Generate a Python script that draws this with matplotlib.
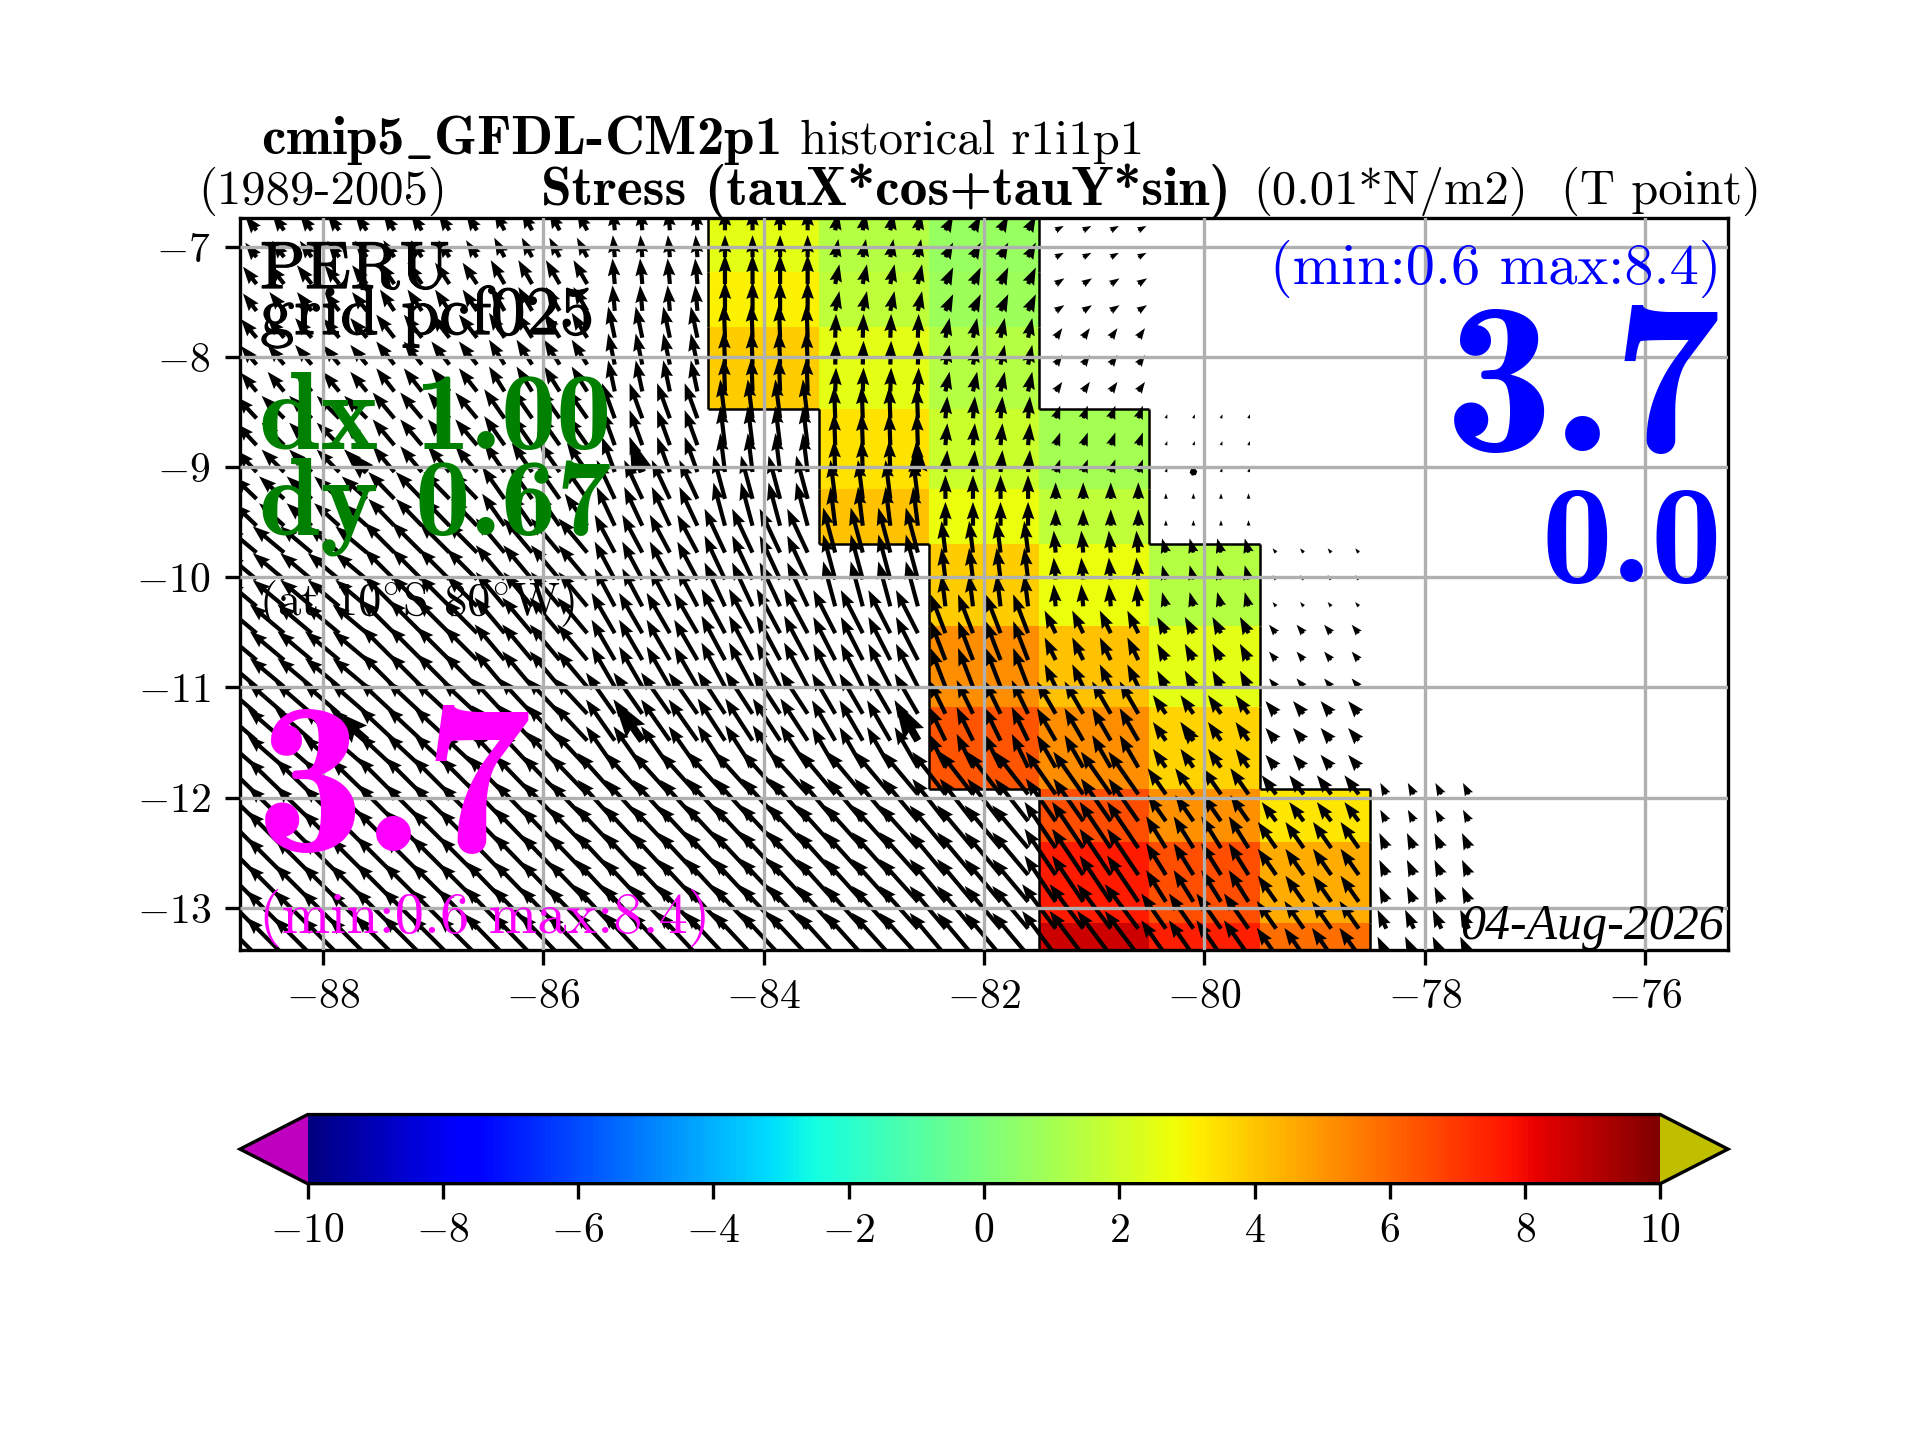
import numpy as np
import matplotlib
matplotlib.use('Agg')
import matplotlib.pyplot as plt
import matplotlib.patheffects as pe
from matplotlib.collections import LineCollection

plt.rcParams['font.family'] = ['cmr10', 'DejaVu Sans']
plt.rcParams['mathtext.fontset'] = 'cm'
plt.rcParams['axes.formatter.use_mathtext'] = True
plt.rcParams['axes.unicode_minus'] = True

n = np.nan

# coarse model cells (1 deg wide), rows run north to south
lon_edges = [-89.5, -88.5, -87.5, -86.5, -85.5, -84.5, -83.5, -82.5, -81.5, -80.5, -79.5, -78.5, -77.5]
lat_edges = [-6.6, -7.23, -7.73, -8.47, -9.20, -9.70, -10.44, -11.18, -11.92, -12.40, -13.14, -13.5]

# shaded field, 0.01*N/m2
stress = [
    [n, n, n, n, n, 2.5, 1.4, 0.7, n, n, n, n],
    [n, n, n, n, n, 3.1, 1.6, 0.8, n, n, n, n],
    [n, n, n, n, n, 3.9, 2.5, 1.4, n, n, n, n],
    [n, n, n, n, n, n, 3.4, 1.9, 1.0, n, n, n],
    [n, n, n, n, n, n, 4.1, 2.7, 1.6, n, n, n],
    [n, n, n, n, n, n, n, 3.9, 2.7, 1.4, n, n],
    [n, n, n, n, n, n, n, 5.2, 4.1, 2.5, n, n],
    [n, n, n, n, n, n, n, 6.4, 5.2, 3.7, n, n],
    [n, n, n, n, n, n, n, n, 6.5, 5.1, 3.3, n],
    [n, n, n, n, n, n, n, n, 7.6, 6.5, 4.6, n],
    [n, n, n, n, n, n, n, n, 8.6, 7.5, 5.8, n],
]

# arrow direction (deg from east) and length per coarse cell
arrow_dir = [
    [128, 126, 123, 118, 95, 90, 80, 62, 28, n, n, n],
    [128, 128, 124, 120, 95, 90, 78, 65, 33, n, n, n],
    [130, 130, 128, 122, 102, 92, 88, 78, 55, n, n, n],
    [133, 135, 130, 125, 110, 97, 92, 85, 70, 70, n, n],
    [136, 138, 134, 125, 115, 105, 97, 90, 90, 90, n, n],
    [140, 140, 135, 130, 118, 115, 105, 97, 95, 105, 130, n],
    [140, 140, 135, 130, 120, 118, 117, 111, 116, 118, 130, n],
    [139, 139, 137, 133, 125, 123, 120, 116, 120, 125, 130, n],
    [136, 136, 135, 134, 132, 132, 130, 128, 125, 125, 127, 118],
    [135, 135, 135, 134, 133, 133, 132, 130, 124, 122, 125, 115],
    [135, 135, 135, 134, 133, 133, 132, 130, 127, 125, 125, 115],
]
arrow_mag = [
    [3.0, 3.3, 3.3, 3.6, 3.6, 3.6, 3.0, 2.7, 1.5, n, n, n],
    [3.6, 3.9, 4.2, 4.5, 4.2, 4.8, 3.3, 3.0, 1.7, n, n, n],
    [4.0, 4.2, 4.8, 4.8, 5.2, 5.5, 3.9, 3.3, 1.9, n, n, n],
    [4.8, 5.2, 5.5, 5.8, 6.1, 6.4, 5.2, 3.6, 2.2, 0.7, n, n],
    [5.2, 5.5, 6.1, 6.4, 7.0, 7.3, 6.4, 3.9, 2.7, 0.9, n, n],
    [6.4, 6.7, 7.0, 7.3, 7.0, 7.9, 7.6, 5.2, 3.6, 2.4, 0.9, n],
    [7.0, 7.3, 7.6, 7.6, 7.6, 8.2, 7.9, 6.8, 4.1, 3.0, 1.8, n],
    [7.6, 7.9, 7.9, 7.9, 8.2, 8.2, 7.6, 6.1, 6.1, 3.7, 2.7, n],
    [8.2, 8.2, 8.5, 8.8, 9.1, 9.4, 9.1, 8.8, 8.5, 5.2, 3.9, 2.1],
    [8.5, 8.5, 8.8, 9.1, 9.4, 9.7, 9.4, 9.1, 9.1, 6.1, 5.2, 2.7],
    [8.8, 8.8, 9.1, 9.4, 9.7, 9.7, 9.4, 9.1, 9.1, 7.0, 5.5, 3.4],
]

# arrow grid (0.25 deg points), the last row has its tails just below the frame
lon_arrows = np.arange(-88.6, -77.55, 0.25)
lat_arrows = np.arange(-6.85, -13.48, -0.2438)

lon_ticks = [-88, -86, -84, -82, -80, -78, -76]
lat_ticks = [-13, -12, -11, -10, -9, -8, -7]
cbar_ticks = [-10, -8, -6, -4, -2, 0, 2, 4, 6, 8, 10]

stress = np.ma.masked_invalid(stress)
arrow_dir = np.array(arrow_dir, dtype=float)
arrow_mag = np.array(arrow_mag, dtype=float)
lon_edges = np.array(lon_edges)
lat_edges = np.array(lat_edges)

fig = plt.figure(figsize=(6.4, 4.8), dpi=300)
ax = fig.add_axes([0.125, 0.3405, 0.775, 0.508])

cmap = plt.get_cmap('jet').copy()
cmap.set_under('m')
cmap.set_over('y')

mesh = ax.pcolormesh(lon_edges, lat_edges, stress, cmap=cmap, vmin=-10, vmax=10, zorder=1)

# outline of the shaded cells
segs = []
nrow, ncol = stress.shape
filled = ~np.ma.getmaskarray(stress)
for i in range(nrow):
    for j in range(ncol):
        if not filled[i, j]:
            continue
        if i == 0 or not filled[i - 1, j]:
            segs.append([(lon_edges[j], lat_edges[i]), (lon_edges[j + 1], lat_edges[i])])
        if i == nrow - 1 or not filled[i + 1, j]:
            segs.append([(lon_edges[j], lat_edges[i + 1]), (lon_edges[j + 1], lat_edges[i + 1])])
        if j == 0 or not filled[i, j - 1]:
            segs.append([(lon_edges[j], lat_edges[i]), (lon_edges[j], lat_edges[i + 1])])
        if j == ncol - 1 or not filled[i, j + 1]:
            segs.append([(lon_edges[j + 1], lat_edges[i]), (lon_edges[j + 1], lat_edges[i + 1])])
ax.add_collection(LineCollection(segs, colors='k', linewidths=0.6, zorder=2))

# each arrow takes the vector of the cell it falls in
jj = np.searchsorted(lon_edges, lon_arrows) - 1
ii = np.searchsorted(-lat_edges, -lat_arrows) - 1
theta = np.radians(arrow_dir[np.ix_(ii, jj)])
mag = arrow_mag[np.ix_(ii, jj)]
u = mag * np.cos(theta)
v = mag * np.sin(theta)
lon2d, lat2d = np.meshgrid(lon_arrows, lat_arrows)

ax.quiver(lon2d, lat2d, u, v, angles='xy', scale_units='xy', scale=18,
          units='width', width=0.0028, headwidth=3, headlength=4.2, headaxislength=3.8, zorder=2)
# every tenth point comes out heavier
ax.quiver(lon2d[9::10, 4::10], lat2d[9::10, 4::10], u[9::10, 4::10], v[9::10, 4::10],
          angles='xy', scale_units='xy', scale=18, units='width', width=0.0052, zorder=2)

ax.set_xlim(-88.75, -75.25)
ax.set_ylim(-13.38, -6.74)
ax.set_xticks(lon_ticks)
ax.set_yticks(lat_ticks)
ax.set_axisbelow(False)
ax.grid(True)

cax = fig.add_axes([0.125, 0.178, 0.775, 0.048])
cb = fig.colorbar(mesh, cax=cax, orientation='horizontal', extend='both', ticks=cbar_ticks)


def put(x, y, s, **kw):
    # x, y in output pixels, y from the top
    return fig.text(x / 1920, 1 - y / 1440, s, va='baseline', **kw)


BOLD = ['cmb10', 'cmr10']
heavy = [pe.withStroke(linewidth=0.3, foreground='k')]

put(261, 154, r'cmip5$\_$GFDL-CM2p1', fontsize=13.2, family=BOLD)
put(800, 154, 'historical r1i1p1', fontsize=11.7)
put(198, 204, '(1989-2005)', fontsize=11.7)
put(541, 205, 'Stress (tauX*cos+tauY*sin)', fontsize=13.3, family=BOLD)
put(1253, 204, '(0.01*N/m2)', fontsize=11.7)
put(1561, 204, '(T point)', fontsize=11.7)

put(260, 288, 'PERU', fontsize=16, path_effects=heavy)
put(260, 334, 'grid pcf025', fontsize=16.5, path_effects=heavy)
put(259, 449, 'dx 1.00', fontsize=26.5, color='g', family=BOLD)
put(259, 535, 'dy 0.67', fontsize=26.5, color='g', family=BOLD)
put(259, 615, r'(at 10$^{\circ}$S 80$^{\circ}$W)', fontsize=11.2)
put(256, 851, '3.7', fontsize=52, color='magenta', family=BOLD)
put(259, 933, '(min:0.6 max:8.4)', fontsize=14, color='magenta')

put(1721, 284, '(min:0.6 max:8.4)', fontsize=14, color='b', ha='right')
put(1722, 451, '3.7', fontsize=52, color='b', ha='right', family=BOLD)
put(1722, 582, '0.0', fontsize=34, color='b', ha='right', family=BOLD)
put(1724, 939, '04-Aug-2026', fontsize=12, ha='right', family='Liberation Serif', style='italic')

fig.savefig('out.png', dpi=300)
